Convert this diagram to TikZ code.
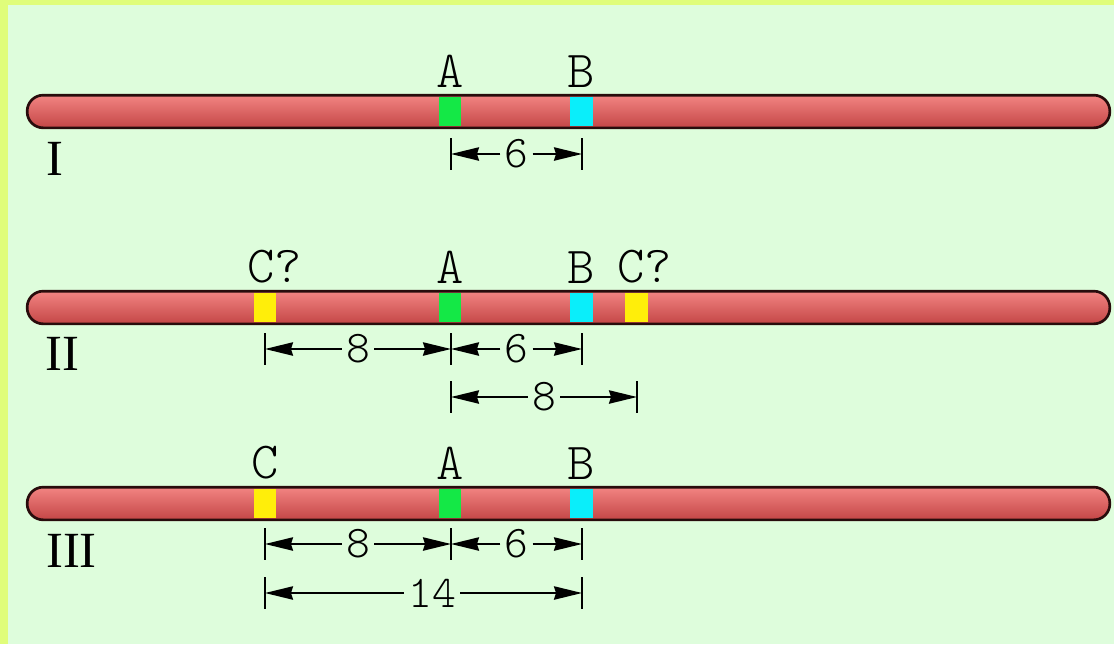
\documentclass[tikz,border=0pt]{standalone}
\usepackage{fontspec}
\usepackage{tikz}
\usetikzlibrary{positioning,arrows.meta}
\setmainfont{Liberation Serif}
\newfontfamily\monolight{lmmonolt10-regular.otf}
\definecolor{frameYellow}{RGB}{224,253,122}
\definecolor{paperGreen}{RGB}{222,253,220}
\definecolor{chromTop}{RGB}{242,132,130}
\definecolor{chromBot}{RGB}{196,70,70}
\definecolor{chromLine}{RGB}{40,12,12}
\definecolor{geneA}{RGB}{20,232,70}
\definecolor{geneB}{RGB}{10,238,250}
\definecolor{geneC}{RGB}{255,238,10}
\tikzset{
  chrom/.style={draw=chromLine, line width=2pt, rounded corners=12pt,
    top color=chromTop, bottom color=chromBot,
    minimum width=812pt, minimum height=24.5pt, inner sep=0pt},
  band/.style={inner sep=0pt, minimum width=17pt, minimum height=21.5pt},
  gene/.style={inner sep=0pt, font=\monolight\fontsize{39}{41}\selectfont},
  dist/.style={inner sep=3pt, font=\monolight\fontsize{34}{36}\selectfont},
  roman/.style={inner sep=0pt, anchor=base, font=\fontsize{38}{40}\selectfont},
  tickmark/.style={line width=2pt},
  span/.style={line width=1.5pt, -{Stealth[length=21pt,width=10pt,inset=1.5pt]}}
}
\begin{document}
\begin{tikzpicture}[x=0.75pt,y=0.75pt,yscale=-1,xscale=1]
\useasboundingbox (0,0) rectangle (1114,644);
\fill[frameYellow] (0,0) rectangle (1114,644);
\fill[paperGreen] (8,5) rectangle (1114,644);

% Chromosome I
\node[chrom] (chrI) at (568.5,111.5) {};
\node[band, fill=geneA] (bA1) at (450,111.5) {};
\node[band, fill=geneB] (bB1) at (581.5,111.5) {};
\node[gene, above=7pt of bA1] (lA1) {A};
\node[gene, above=7pt of bB1] (lB1) {B};
\node[roman] (nI) at (55,175) {I};
% distance I
\coordinate (tA1) at (451,154);
\coordinate (tB1) at (582,154);
\draw[tickmark] ([yshift=-12pt]tA1) -- ([yshift=12pt]tA1);
\draw[tickmark] ([yshift=-12pt]tB1) -- ([yshift=12pt]tB1);
\node[dist] (dAB1) at (516.5,154) {6};
\draw[span] (dAB1.west) -- (tA1);
\draw[span] (dAB1.east) -- (tB1);

% Chromosome II
\node[chrom] (chrII) at (568.5,307.5) {};
\node[band, fill=geneC] (bCl2) at (265,307.5) {};
\node[band, fill=geneA] (bA2) at (450,307.5) {};
\node[band, fill=geneB] (bB2) at (581.5,307.5) {};
\node[band, fill=geneC] (bCr2) at (636.5,307.5) {};
\node[gene, above=7pt of bCl2, xshift=7pt] (lCl2) {C?};
\node[gene, above=7pt of bA2] (lA2) {A};
\node[gene, above=7pt of bB2] (lB2) {B};
\node[gene, above=7pt of bCr2, xshift=6pt] (lCr2) {C?};
\node[roman] (nII) at (62.5,370) {II};
% distances II
\coordinate (tC2) at (265,349);
\coordinate (tA2) at (451,349);
\coordinate (tB2) at (582,349);
\coordinate (tA2b) at (451,397);
\coordinate (tCr2) at (637,397);
\foreach \t in {tC2,tA2,tB2,tA2b,tCr2}
  \draw[tickmark] ([yshift=-12pt]\t) -- ([yshift=12pt]\t);
\node[dist] (dCA2) at (358,349) {8};
\draw[span] (dCA2.west) -- (tC2);
\draw[span] (dCA2.east) -- (tA2);
\node[dist] (dAB2) at (516.5,349) {6};
\draw[span] (dAB2.west) -- (tA2);
\draw[span] (dAB2.east) -- (tB2);
\node[dist] (dAC2) at (544,397) {8};
\draw[span] (dAC2.west) -- (tA2b);
\draw[span] (dAC2.east) -- (tCr2);

% Chromosome III
\node[chrom] (chrIII) at (568.5,503.5) {};
\node[band, fill=geneC] (bC3) at (265,503.5) {};
\node[band, fill=geneA] (bA3) at (450,503.5) {};
\node[band, fill=geneB] (bB3) at (581.5,503.5) {};
\node[gene, above=7pt of bC3] (lC3) {C};
\node[gene, above=7pt of bA3] (lA3) {A};
\node[gene, above=7pt of bB3] (lB3) {B};
\node[roman] (nIII) at (71.5,567) {III};
% distances III
\coordinate (tC3) at (265,544);
\coordinate (tA3) at (451,544);
\coordinate (tB3) at (582,544);
\coordinate (tC3b) at (265,593);
\coordinate (tB3b) at (582,593);
\foreach \t in {tC3,tA3,tB3,tC3b,tB3b}
  \draw[tickmark] ([yshift=-12pt]\t) -- ([yshift=12pt]\t);
\node[dist] (dCA3) at (358,544) {8};
\draw[span] (dCA3.west) -- (tC3);
\draw[span] (dCA3.east) -- (tA3);
\node[dist] (dAB3) at (516.5,544) {6};
\draw[span] (dAB3.west) -- (tA3);
\draw[span] (dAB3.east) -- (tB3);
\node[dist] (dCB3) at (432,593) {14};
\draw[span] (dCB3.west) -- (tC3b);
\draw[span] (dCB3.east) -- (tB3b);
\end{tikzpicture}
\end{document}
